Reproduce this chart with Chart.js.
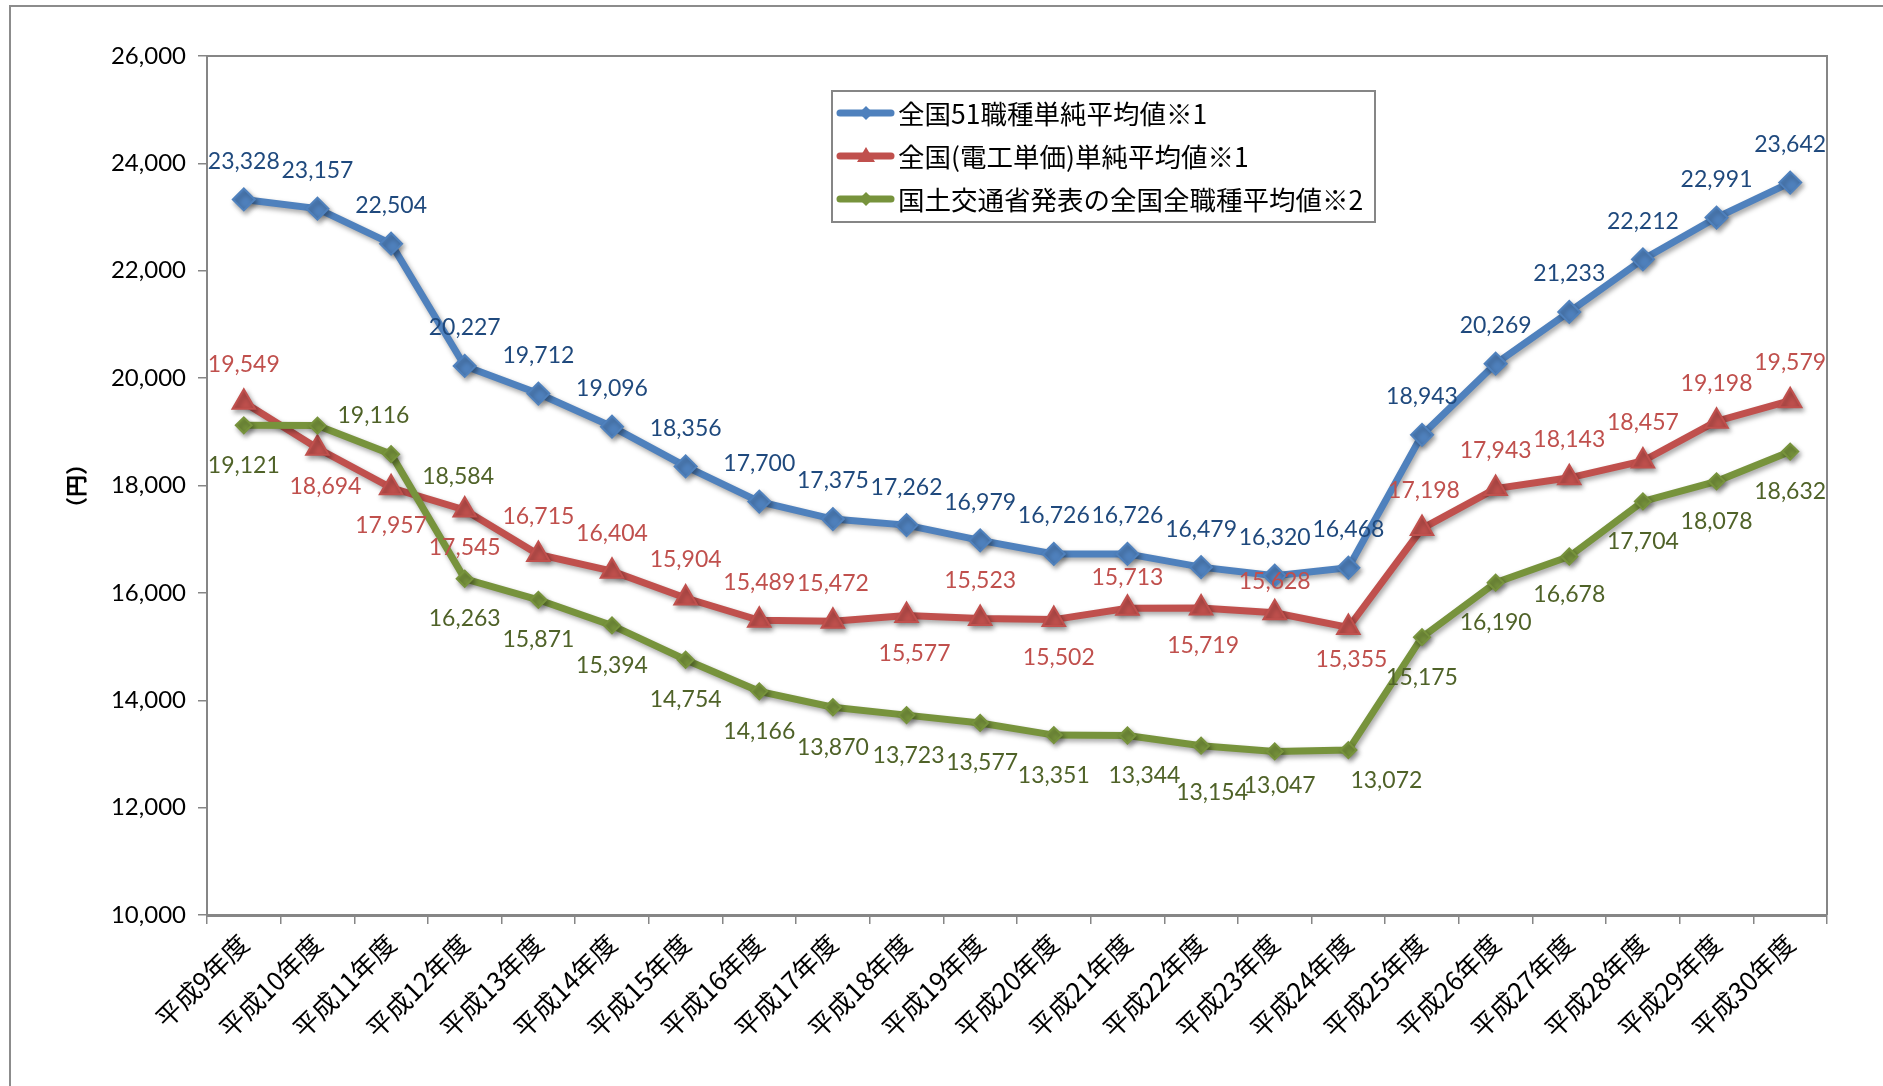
<!DOCTYPE html>
<html><head><meta charset="utf-8">
<script src="https://cdn.jsdelivr.net/npm/chart.js@4.4.0/dist/chart.umd.min.js"></script>
<style>html,body{margin:0;padding:0;background:#fff;}canvas{display:block;}</style>
</head><body>
<canvas id="c" width="1883" height="1086"></canvas>
<script>
// ---- data ----
const categories = ['平成9年度','平成10年度','平成11年度','平成12年度','平成13年度','平成14年度','平成15年度','平成16年度','平成17年度','平成18年度','平成19年度','平成20年度','平成21年度','平成22年度','平成23年度','平成24年度','平成25年度','平成26年度','平成27年度','平成28年度','平成29年度','平成30年度'];
const series51 = [23328,23157,22504,20227,19712,19096,18356,17700,17375,17262,16979,16726,16726,16479,16320,16468,18943,20269,21233,22212,22991,23642];
const seriesDenko = [19549,18694,17957,17545,16715,16404,15904,15489,15472,15577,15523,15502,15713,15719,15628,15355,17198,17943,18143,18457,19198,19579];
const seriesMlit = [19121,19116,18584,16263,15871,15394,14754,14166,13870,13723,13577,13351,13344,13154,13047,13072,15175,16190,16678,17704,18078,18632];
const seriesNames = ['全国51職種単純平均値※1','全国(電工単価)単純平均値※1','国土交通省発表の全国全職種平均値※2'];
const yMin = 10000, yMax = 26000, yStep = 2000;
const yTitle = '（円）';

// ---- label placement (offsets from the point, px) ----
const A = -38, B = 38;
const offBlue = categories.map(() => [0, A]);
const offRed = [[0,A],[8,B],[0,B],[0,B],[0,A],[0,A],[0,A],[0,A],[0,A],[8,B],[0,A],[5,B],[0,-31],[2,B],[0,-31],[3,32],[2,A],[0,A],[0,A],[0,A],[0,A],[0,A]];
const offGreen = [[0,40],[56,-10],[67,22],[0,40],[0,40],[0,40],[0,40],[0,40],[0,40],[2,40],[2,40],[0,40],[17,40],[11,47],[5,34],[38,31],[0,40],[0,40],[0,38],[0,40],[0,40],[0,40]];

const C_BLUE = '#4F81BD', C_RED = '#C0504D', C_GREEN = '#77933C';
const L_BLUE = '#1F497D', L_RED = '#C0504D', L_GREEN = '#4F6228';

const datasets = [
  {label: seriesNames[0], data: series51, borderColor: C_BLUE, backgroundColor: C_BLUE, borderWidth: 7, pointStyle: 'rectRot', pointRadius: 11, pointBorderWidth: 2, order: 3, lblColor: L_BLUE, offs: offBlue},
  {label: seriesNames[1], data: seriesDenko, borderColor: C_RED, backgroundColor: C_RED, borderWidth: 7, pointStyle: 'triangle', pointRadius: 13, pointBorderWidth: 2, order: 2, lblColor: L_RED, offs: offRed},
  {label: seriesNames[2], data: seriesMlit, borderColor: C_GREEN, backgroundColor: C_GREEN, borderWidth: 7, pointStyle: 'rectRot', pointRadius: 8, pointBorderWidth: 2, order: 1, lblColor: L_GREEN, offs: offGreen}
];
datasets.forEach(d => { d.tension = 0; d.fill = false; d.pointBackgroundColor = d.borderColor; d.pointBorderColor = d.borderColor; d.pointHoverRadius = d.pointRadius; });

const fmt = v => v.toLocaleString('en-US');

const decor = {
  id: 'decor',
  beforeDraw(chart) {
    const ctx = chart.ctx;
    ctx.save();
    ctx.fillStyle = '#fff';
    ctx.fillRect(0, 0, chart.width, chart.height);
    ctx.strokeStyle = '#8c8c8c';
    ctx.lineWidth = 2;
    ctx.strokeRect(10, 6, 1920, 1120);
    ctx.restore();
  },
  beforeDatasetDraw(chart) {
    const ctx = chart.ctx;
    ctx.save();
    ctx.shadowColor = 'rgba(0,0,0,0.35)';
    ctx.shadowBlur = 5;
    ctx.shadowOffsetX = 2;
    ctx.shadowOffsetY = 3;
  },
  afterDatasetDraw(chart) {
    chart.ctx.restore();
  },
  afterDatasetsDraw(chart) {
    const ctx = chart.ctx;
    const ca = chart.chartArea;
    ctx.save();
    // top and right plot border
    ctx.strokeStyle = '#868686';
    ctx.lineWidth = 2;
    ctx.beginPath();
    ctx.moveTo(ca.left, ca.top);
    ctx.lineTo(ca.right, ca.top);
    ctx.lineTo(ca.right, ca.bottom);
    ctx.stroke();

    // data labels
    ctx.font = '23px Lato, "Open Sans", sans-serif';
    ctx.textAlign = 'center';
    ctx.textBaseline = 'middle';
    chart.data.datasets.forEach((ds, i) => {
      const meta = chart.getDatasetMeta(i);
      ctx.fillStyle = ds.lblColor;
      meta.data.forEach((pt, j) => {
        const o = ds.offs[j];
        ctx.fillText(fmt(ds.data[j]), pt.x + o[0], pt.y + o[1]);
      });
    });

    // y axis title
    ctx.save();
    ctx.translate(76, 486);
    ctx.rotate(-Math.PI / 2);
    ctx.fillStyle = '#000';
    ctx.font = 'bold 22px "Noto Sans CJK JP"';
    ctx.fillText(yTitle, 0, 0);
    ctx.restore();

    // legend
    const lx = 832, ly = 91, lw = 543, lh = 131;
    ctx.fillStyle = '#fff';
    ctx.fillRect(lx, ly, lw, lh);
    ctx.strokeStyle = '#868686';
    ctx.lineWidth = 2;
    ctx.strokeRect(lx, ly, lw, lh);
    const rows = [113, 156, 199];
    ctx.textAlign = 'left';
    ctx.font = '26.5px "Noto Sans CJK JP"';
    chart.data.datasets.forEach((ds, i) => {
      const y = rows[i];
      ctx.strokeStyle = ds.borderColor;
      ctx.lineWidth = 7;
      ctx.lineCap = 'round';
      ctx.beginPath();
      ctx.moveTo(840, y);
      ctx.lineTo(891, y);
      ctx.stroke();
      ctx.fillStyle = ds.borderColor;
      ctx.beginPath();
      if (ds.pointStyle === 'triangle') {
        ctx.moveTo(866, y - 9); ctx.lineTo(875, y + 6); ctx.lineTo(857, y + 6);
      } else {
        ctx.moveTo(866, y - 7); ctx.lineTo(873, y); ctx.lineTo(866, y + 7); ctx.lineTo(859, y);
      }
      ctx.closePath();
      ctx.fill();
      ctx.fillStyle = '#000';
      ctx.fillText(ds.label, 898, y + 1);
    });
    ctx.restore();
  }
};

new Chart(document.getElementById('c'), {
  type: 'line',
  data: {labels: categories, datasets: datasets},
  options: {
    responsive: false,
    devicePixelRatio: 1,
    animation: false,
    layout: {padding: {top: 56, right: 56, left: 0, bottom: 0}},
    plugins: {legend: {display: false}, tooltip: {enabled: false}},
    scales: {
      x: {
        type: 'category',
        offset: true,
        grid: {display: true, drawOnChartArea: false, drawTicks: true, tickLength: 9, offset: true, color: '#868686', lineWidth: 1.5},
        border: {display: true, color: '#868686', width: 3},
        ticks: {maxRotation: 45, minRotation: 45, autoSkip: false, color: '#000', padding: 4, font: {family: '"Noto Sans CJK JP"', size: 26}},
        afterFit(s) { s.height = 171; }
      },
      y: {
        min: yMin, max: yMax,
        ticks: {stepSize: yStep, color: '#000', padding: 12, font: {family: 'Lato', size: 24}, callback: v => fmt(v)},
        grid: {drawOnChartArea: false, drawTicks: true, tickLength: 9, color: '#868686', lineWidth: 1.5},
        border: {display: true, color: '#868686', width: 2},
        afterFit(s) { s.width = 207; }
      }
    }
  },
  plugins: [decor]
});
</script>
</body></html>
